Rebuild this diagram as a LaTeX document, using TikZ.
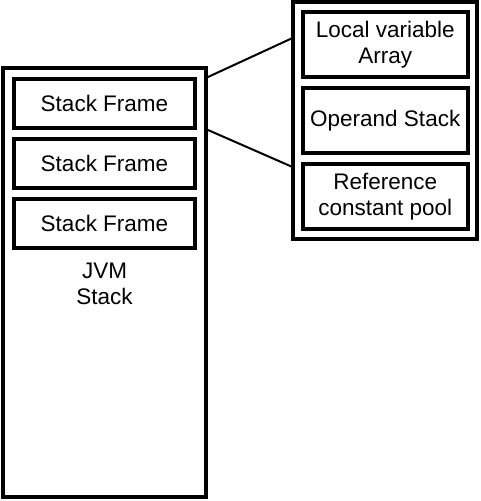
\documentclass[tikz,border=0pt]{standalone}
\usepackage{fontspec}
\setsansfont{Liberation Sans}
\tikzset{every picture/.style={/utils/exec={\sffamily}}}
\usetikzlibrary{calc}
\usetikzlibrary{positioning}

\begin{document}
\begin{tikzpicture}[x=1pt, y=-1pt,
  every node/.style={font=\fontsize{22.5}{26.5}\selectfont, inner sep=0pt},
  box/.style={draw, line width=4pt, rectangle},
  frame/.style={box, minimum width=181pt, minimum height=49pt},
  part/.style={box, minimum width=164.5pt, minimum height=65pt, align=center}]

  \useasboundingbox (0,0) rectangle (480,501);

  % the jvm stack with its frames
  \node [box, minimum width=203pt, minimum height=429pt] (jvm) at (104.5,282.5) {};
  \foreach \i/\y in {1/103.5, 2/163.5, 3/223.5} \node [frame] (sf\i) at (104.5,\y) {Stack Frame};
  \node [align=center] (jvmlabel) at (104.5,284) {JVM\\Stack};

  % what one frame holds
  \node [box, minimum width=184.5pt, minimum height=237pt] (detail) at (384.75,120.5) {};
  \node [part] (locals) at (385.25,44.5) {Local variable\\Array};
  \node [part] (operand) at (385.25,120.5) {Operand Stack};
  \node [part] (refpool) at (385.25,196.5) {Reference\\constant pool};

  \coordinate (fanA) at (292.5,38);
  \coordinate (fanB) at (292.5,167);
  \draw [line width=2pt] (jvm.east |- sf1.north) -- (fanA);
  \draw [line width=2pt] (jvm.east |- sf1.south) -- (fanB);

\end{tikzpicture}
\end{document}
